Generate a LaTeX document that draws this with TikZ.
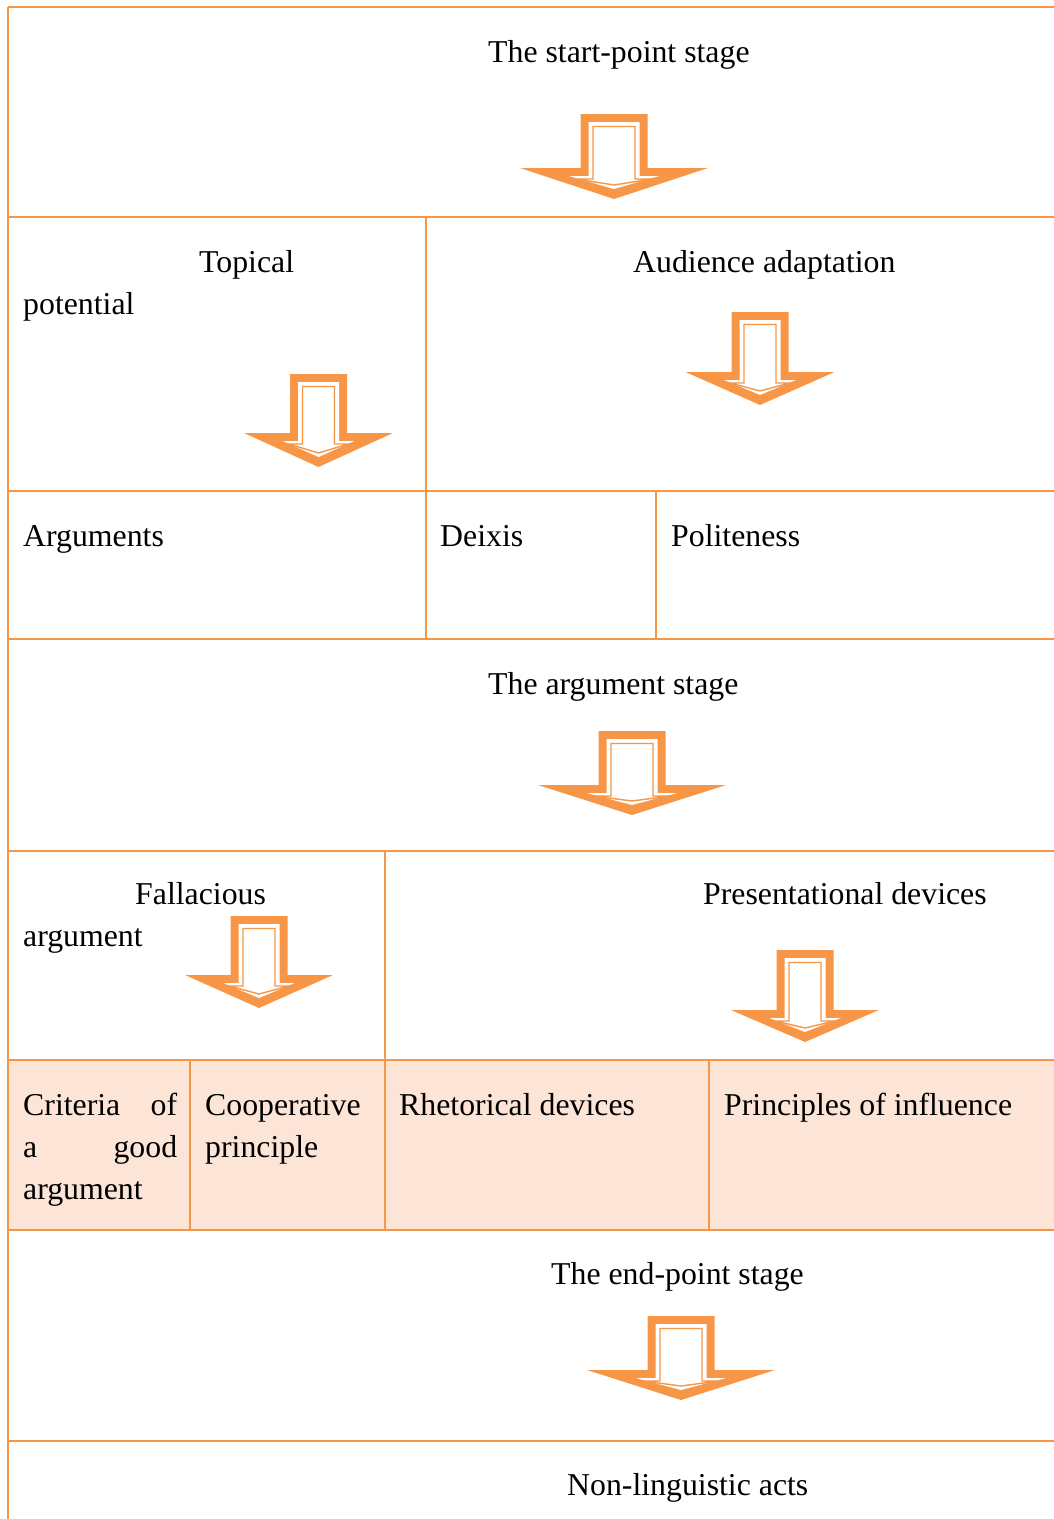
\documentclass[tikz,border=0pt]{standalone}
\usepackage{fontspec}
\setmainfont{Liberation Serif}
\definecolor{tableline}{HTML}{F79646}
\definecolor{tableshade}{HTML}{FCE4D6}
\tikzset{
% Table rules, cell texts and the hollow arrows
cell rule/.style={draw=tableline,line width=2.9},
cell text/.style={anchor=base west,inner sep=0,font=\fontsize{31.8}{42}\selectfont},
arrow outer/.style={fill=tableline},
arrow inner/.style={fill=white},
arrow rim/.style={draw=tableline,line width=1.4,line join=miter}
}
% #1 centre x, #2 top y, #3 half head, #4 half shaft, #5 shaft length, #6 head length
\newcommand{\stagearrow}[6]{%
\fill[arrow outer] ({#1-#4},#2) -- ({#1+#4},#2) -- ({#1+#4},{#2+#5}) -- ({#1+#3},{#2+#5})
  -- (#1,{#2+#5+#6}) -- ({#1-#3},{#2+#5}) -- ({#1-#4},{#2+#5}) -- cycle;
\fill[arrow inner] ({#1-#4+8},{#2+8}) -- ({#1+#4-8},{#2+8}) -- ({#1+#4-8},{#2+#5+8}) -- ({#1+0.48*#3},{#2+#5+8})
  -- (#1,{#2+#5+#6-10}) -- ({#1-0.48*#3},{#2+#5+8}) -- ({#1-#4+8},{#2+#5+8}) -- cycle;
\draw[arrow rim] ({#1-#4+12.5},{#2+12.5}) -- ({#1+#4-12.5},{#2+12.5}) -- ({#1+#4-12.5},{#2+#5+11}) -- ({#1+0.4*#3},{#2+#5+11})
  -- (#1,{#2+#5+#6-14}) -- ({#1-0.4*#3},{#2+#5+11}) -- ({#1-#4+12.5},{#2+#5+11}) -- cycle;
}

\begin{document}
\begin{tikzpicture}[x=1pt,y=-1pt]
\useasboundingbox (0,0) rectangle (1054,1519);

% shaded row
\fill[tableshade] (8,1060) rectangle (1054,1230);

% rules
\draw[cell rule] (8,7) -- (1054,7);
\draw[cell rule] (8,7) -- (8,1519);
\foreach \y in {217,491,639,851,1060,1230,1441}
  \draw[cell rule] (8,\y) -- (1054,\y);
\draw[cell rule] (426,217) -- (426,639);
\draw[cell rule] (656,491) -- (656,639);
\draw[cell rule] (385,851) -- (385,1230);
\draw[cell rule] (190,1060) -- (190,1230);
\draw[cell rule] (709,1060) -- (709,1230);

% texts
\node[cell text] (start) at (488,62) {The start-point stage};
\node[cell text] (topical) at (199,272) {Topical};
\node[cell text] (potential) at (23,314) {potential};
\node[cell text] (audience) at (633,272) {Audience adaptation};
\node[cell text] (arguments) at (23,546) {Arguments};
\node[cell text] (deixis) at (440,546) {Deixis};
\node[cell text] (politeness) at (671,546) {Politeness};
\node[cell text] (argstage) at (488,694) {The argument stage};
\node[cell text] (fallacious) at (135,904) {Fallacious};
\node[cell text] (fallarg) at (23,946) {argument};
\node[cell text] (presentational) at (703,904) {Presentational devices};
\node[cell text,text width=154,align=left] (criteria) at (23,1115) {Criteria\hfill of\\a\hfill good\\argument};
\node[cell text,text width=170,align=left] (cooperative) at (205,1115) {Cooperative\\principle};
\node[cell text] (rhetorical) at (399,1115) {Rhetorical devices};
\node[cell text] (influence) at (724,1115) {Principles of influence};
\node[cell text] (end) at (551,1284) {The end-point stage};
\node[cell text] (nonling) at (567,1495) {Non-linguistic acts};

% arrows
\stagearrow{614}{114}{94}{33.5}{54}{31}
\stagearrow{318.5}{374}{74.5}{28.5}{59}{34}
\stagearrow{760}{312}{74.5}{28.5}{60}{33}
\stagearrow{632}{731}{94}{33.5}{54}{30}
\stagearrow{259}{916}{74}{28.5}{59}{33}
\stagearrow{805}{950}{74}{28.5}{60}{32}
\stagearrow{681}{1316}{94}{33.5}{54}{30}
\end{tikzpicture}
\end{document}
